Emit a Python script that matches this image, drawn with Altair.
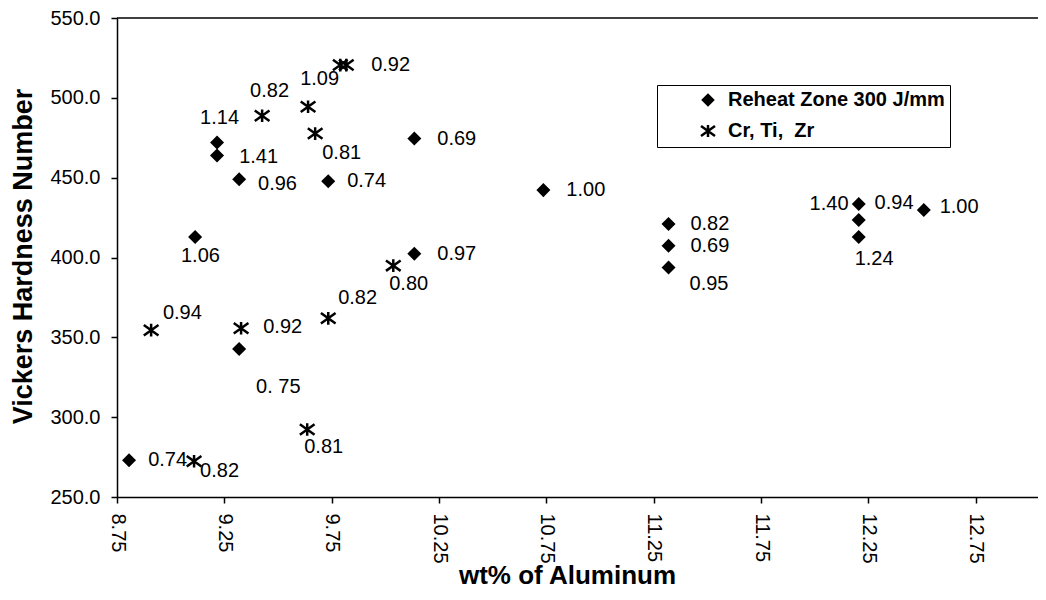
import altair as alt
import pandas as pd

FONT = "Liberation Sans"
SERIES = ["Reheat Zone 300 J/mm", "Cr, Ti,\u00a0 Zr"]
STAR = "M-1.4,-1L1.4,1M-1.4,1L1.4,-1M0,-1.2L0,1.2"

# Reheat Zone 300 J/mm (diamonds)
reheat_al = [8.806, 9.114, 9.216, 9.216, 9.319, 9.734, 10.135, 10.135, 9.319,
             10.736, 11.319, 11.319, 11.319, 12.205, 12.205, 12.205, 12.508]
reheat_hv = [273.0, 412.9, 472.0, 463.9, 449.0, 447.8, 474.5, 402.4, 342.7,
             442.2, 421.0, 407.3, 393.7, 433.5, 423.5, 412.9, 429.7]

# Cr, Ti, Zr (stars)
crtizr_al = [8.909, 9.109, 9.328, 9.734, 9.636, 10.037, 9.426, 9.640, 9.673, 9.790, 9.818]
crtizr_hv = [354.5, 272.4, 355.7, 361.9, 292.3, 394.9, 488.8, 494.4, 477.6, 520.5, 520.5]

# Point annotations (text and where it sits, in data units)
label_text = ["0.74", "0.82", "0.94", "0.92", "0. 75", "0.81", "0.82", "0.80",
              "1.06", "1.41", "0.96", "0.74", "0.69", "0.97", "1.14", "0.82",
              "1.09", "0.92", "0.81", "1.00", "0.82", "0.69", "0.95", "1.40",
              "0.94", "1.00", "1.24"]
label_al = [8.895, 9.137, 8.964, 9.431, 9.398, 9.622, 9.780, 10.018,
            9.048, 9.319, 9.407, 9.822, 10.242, 10.242, 9.137, 9.370,
            9.603, 9.934, 9.706, 10.843, 11.421, 11.421, 11.417, 11.976,
            12.279, 12.582, 12.186]
label_hv = [273.0, 266.2, 365.0, 356.3, 319.0, 281.1, 374.4, 383.1,
            401.1, 462.7, 445.9, 447.8, 474.5, 402.4, 487.6, 504.4,
            511.8, 520.5, 465.2, 442.2, 421.0, 407.3, 383.7, 433.5,
            434.1, 431.6, 399.3]

X_DOMAIN = [8.75, 13.04]
Y_DOMAIN = [250, 550]
x_ticks = [8.75, 9.25, 9.75, 10.25, 10.75, 11.25, 11.75, 12.25, 12.75]
y_ticks = [250, 300, 350, 400, 450, 500, 550]

pts = pd.DataFrame({
    "x": reheat_al + crtizr_al,
    "y": reheat_hv + crtizr_hv,
    "series": [SERIES[0]] * len(reheat_al) + [SERIES[1]] * len(crtizr_al),
})
labels = pd.DataFrame({"x": label_al, "y": label_hv, "text": label_text})
top = pd.DataFrame({"y": [Y_DOMAIN[1]]})

xs = alt.Scale(domain=X_DOMAIN, nice=False, zero=False)
ys = alt.Scale(domain=Y_DOMAIN, nice=False, zero=False)

x_axis = alt.Axis(
    title="wt% of Aluminum", values=x_ticks, format=".2f", labelAngle=90,
    labelAlign="left", labelBaseline="middle", labelPadding=10,
    titleX=450, titleY=86, titleBaseline="alphabetic", titleAlign="center",
    titleFontSize=26, labelFlush=False, labelOverlap=False)
y_axis = alt.Axis(
    title="Vickers Hardness Number", values=y_ticks, format=".1f",
    labelPadding=11, titleX=-86, titleY=238, titleBaseline="alphabetic",
    titleAlign="center", titleAngle=270, labelFlush=False, labelOverlap=False)

legend_kw = dict(
    title=None, orient="none", legendX=540, legendY=67, padding=5,
    strokeColor="black", fillColor="white", labelFont=FONT, labelFontSize=20,
    labelFontWeight="bold", labelColor="black", rowPadding=10, symbolOffset=36,
    labelOffset=10, symbolStrokeWidth=2.5, symbolSize=100, labelLimit=400,
)

points = alt.Chart(pts).mark_point(
    opacity=1, strokeWidth=2.5, size=110
).encode(
    x=alt.X("x:Q", scale=xs, axis=x_axis),
    y=alt.Y("y:Q", scale=ys, axis=y_axis),
    shape=alt.Shape("series:N", scale=alt.Scale(domain=SERIES, range=["diamond", STAR]),
                    legend=alt.Legend(**legend_kw)),
    fill=alt.Fill("series:N", scale=alt.Scale(domain=SERIES, range=["black", "transparent"]),
                  legend=alt.Legend(**legend_kw)),
    stroke=alt.Stroke("series:N", scale=alt.Scale(domain=SERIES, range=["black", "black"]),
                      legend=alt.Legend(**legend_kw)),
)

text = alt.Chart(labels).mark_text(
    align="left", baseline="middle", fontSize=20, font=FONT, color="black"
).encode(
    x=alt.X("x:Q", scale=xs, axis=x_axis),
    y=alt.Y("y:Q", scale=ys, axis=y_axis),
    text="text:N",
)

frame = alt.Chart(top).mark_rule(color="black", strokeWidth=1.5).encode(
    y=alt.Y("y:Q", scale=ys, axis=y_axis)
)

chart = alt.layer(frame, points, text).properties(
    width=921, height=479,
    autosize=alt.AutoSizeParams(type="none"),
    padding={"left": 109, "top": 10, "right": 0, "bottom": 93},
    background="white",
).configure_view(stroke=None).configure_axis(
    domainColor="black", domainWidth=1.5, tickColor="black", tickWidth=1.5,
    tickSize=6, grid=False, labelFont=FONT, labelFontSize=20, labelColor="black",
    titleFont=FONT, titleFontSize=27, titleFontWeight="bold", titleColor="black",
)

chart.save("out.html", embed_options={"renderer": "svg", "actions": False})
